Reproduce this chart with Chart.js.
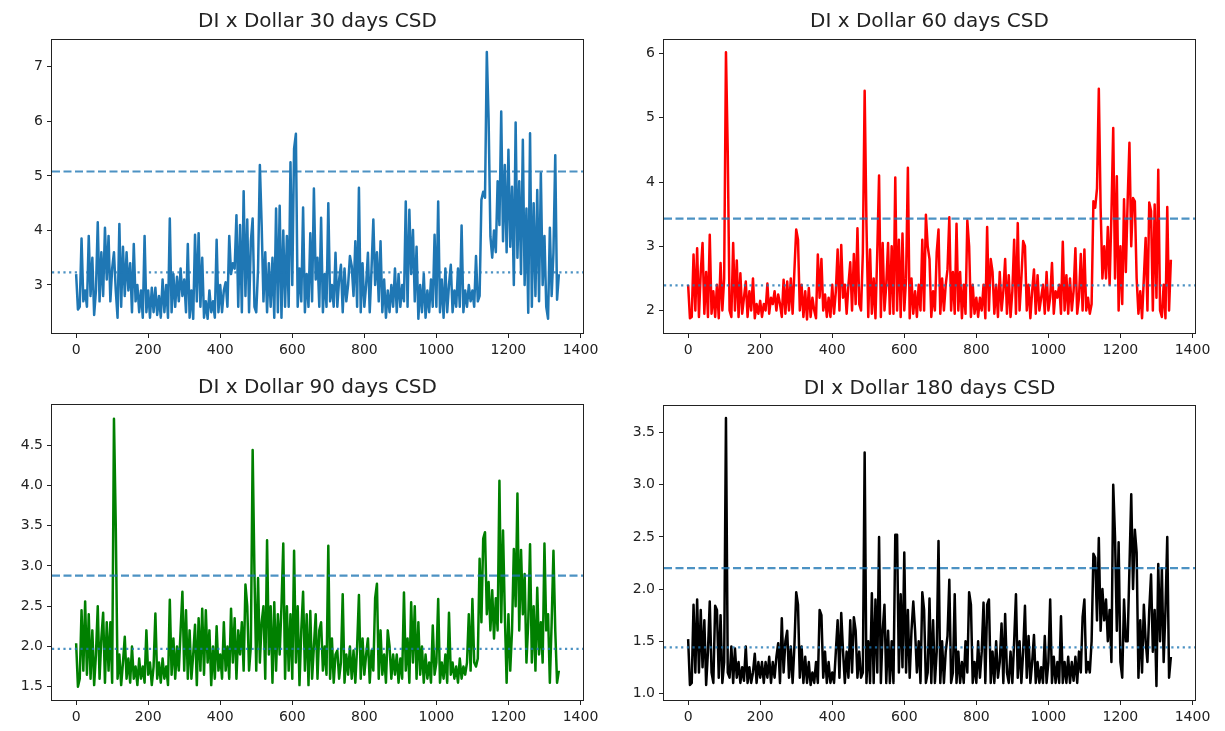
<!DOCTYPE html>
<html>
<head>
<meta charset="utf-8">
<title>DI x Dollar CSD</title>
<script src="https://cdn.jsdelivr.net/npm/chart.js@4.4.1/dist/chart.umd.min.js"></script>
<style>
  html, body { margin: 0; padding: 0; background: #fff; }
  #wrap { position: relative; width: 1225px; height: 731px; overflow: hidden; }
  .panel { position: absolute; }
</style>
</head>
<body>
<div id="wrap">
  <div class="panel" style="left:0;top:0"><canvas id="c30" width="612" height="366"></canvas></div>
  <div class="panel" style="left:612px;top:0"><canvas id="c60" width="613" height="366"></canvas></div>
  <div class="panel" style="left:0;top:366px"><canvas id="c90" width="612" height="365"></canvas></div>
  <div class="panel" style="left:612px;top:366px"><canvas id="c180" width="613" height="365"></canvas></div>
</div>
<script>
// sample days (x axis)
const days = [
  0,5,10,15,20,25,30,35,40,45,50,55,60,65,70,75,80,85,90,95,
  100,105,110,115,120,125,130,135,140,145,150,155,160,165,170,175,180,185,190,195,
  200,205,210,215,220,225,230,235,240,245,250,255,260,265,270,275,280,285,290,295,
  300,305,310,315,320,325,330,335,340,345,350,355,360,365,370,375,380,385,390,395,
  400,405,410,415,420,425,430,435,440,445,450,455,460,465,470,475,480,485,490,495,
  500,505,510,515,520,525,530,535,540,545,550,555,560,565,570,575,580,585,590,595,
  600,605,610,615,620,625,630,635,640,645,650,655,660,665,670,675,680,685,690,695,
  700,705,710,715,720,725,730,735,740,745,750,755,760,765,770,775,780,785,790,795,
  800,805,810,815,820,825,830,835,840,845,850,855,860,865,870,875,880,885,890,895,
  900,905,910,915,920,925,930,935,940,945,950,955,960,965,970,975,980,985,990,995,
  1000,1005,1010,1015,1020,1025,1030,1035,1040,1045,1050,1055,1060,1065,1070,1075,1080,1085,1090,1095,
  1100,1105,1110,1115,1120,1125,1130,1135,1140,1145,1150,1155,1160,1165,1170,1175,1180,1185,1190,1195,
  1200,1205,1210,1215,1220,1225,1230,1235,1240,1245,1250,1255,1260,1265,1270,1275,1280,1285,1290,1295,
  1300,1305,1310,1315,1320,1325,1330,1335,1340
];

const csd30 = [
  3.2,2.55,2.6,3.85,2.7,2.9,2.6,3.9,2.8,3.5,2.45,2.9,4.15,2.7,3.6,2.8,4.05,3.1,3.9,2.7,
  3.3,3.6,2.9,2.4,4.12,2.6,3.7,2.8,3.6,2.9,3.4,2.5,3.75,2.7,3.0,2.5,2.9,2.4,3.9,2.5,
  2.9,2.4,2.95,2.5,2.95,2.45,2.8,2.4,3.1,2.5,3.0,2.4,4.22,2.5,3.2,2.6,3.15,2.7,3.3,2.8,
  3.1,2.5,3.75,2.4,2.9,2.38,3.92,2.7,3.95,2.6,3.5,2.4,2.7,2.38,2.9,2.5,2.7,2.4,3.83,2.5,
  3.0,2.5,2.9,3.05,2.6,3.9,3.2,3.4,3.3,4.28,2.6,4.1,2.5,4.72,2.8,4.2,2.5,3.8,4.22,2.6,
  2.5,3.3,5.2,4.1,2.7,3.6,2.5,3.4,2.6,3.5,2.4,4.4,2.5,4.45,2.4,4.0,2.6,3.9,2.6,5.25,
  3.0,5.5,5.77,2.6,3.3,2.7,4.42,2.5,3.2,2.6,3.95,2.7,4.77,3.1,3.5,2.6,4.23,2.5,3.2,2.6,
  4.5,2.7,3.0,2.6,3.59,2.6,3.1,3.37,2.5,3.3,2.7,3.0,3.53,3.35,2.8,3.8,2.6,4.78,2.5,3.4,
  2.6,3.0,3.59,2.5,3.3,4.2,3.0,3.6,2.7,3.8,2.5,3.1,2.4,2.9,2.5,3.0,2.6,3.3,2.5,3.2,
  2.6,3.0,2.7,4.53,2.6,4.38,3.2,4.01,2.7,3.7,2.38,3.0,2.5,3.2,2.4,2.9,2.5,3.1,2.6,3.92,
  2.6,4.53,2.5,3.1,2.4,3.3,2.5,3.0,3.37,2.5,2.9,2.6,3.3,2.6,4.09,2.5,2.9,2.6,3.0,2.7,
  2.9,2.6,3.53,2.7,2.8,4.56,4.71,4.6,7.27,6.03,3.89,3.5,4.0,3.6,4.9,4.1,6.18,3.8,5.2,3.6,
  5.48,3.7,4.8,3.0,5.98,3.5,4.9,3.2,5.66,3.0,4.4,2.49,5.78,2.6,4.5,2.8,4.74,2.7,5.05,3.0,
  3.9,2.6,2.38,4.05,2.8,3.6,5.38,2.73,3.2
];

const csd60 = [
  2.4,1.88,1.9,2.87,2.0,2.97,1.9,2.6,3.05,1.95,2.6,1.9,3.18,1.95,2.3,1.9,2.4,1.88,2.74,2.0,
  2.5,6.02,4.45,2.0,1.9,3.05,2.0,2.78,1.9,2.58,1.95,2.2,2.45,1.9,2.3,2.0,2.5,1.88,2.1,1.95,
  2.15,1.9,2.1,2.0,2.42,1.95,2.2,2.1,2.3,2.0,2.25,2.1,1.9,2.48,1.95,2.45,2.0,2.5,1.95,2.62,
  3.26,3.1,2.0,2.4,1.9,2.3,1.86,2.35,1.9,2.2,2.0,1.88,2.87,2.2,2.8,2.0,2.25,1.9,2.2,1.9,
  2.4,1.95,2.3,2.95,2.0,3.02,2.2,2.4,1.95,2.4,2.75,2.0,2.88,2.1,3.28,2.1,2.0,2.9,5.42,3.35,
  1.9,2.95,1.95,2.5,1.88,2.9,4.1,1.9,3.05,2.0,2.4,3.05,1.95,3.0,1.95,4.07,2.0,3.1,1.9,3.2,
  2.0,2.5,4.22,1.88,2.5,1.95,2.3,1.9,2.4,2.0,3.1,2.0,3.49,3.0,2.8,1.9,2.3,2.0,2.9,3.26,
  1.95,2.5,2.0,2.4,2.64,3.45,2.0,2.6,1.95,3.35,2.0,2.6,1.88,2.4,1.95,3.4,3.0,1.9,2.4,1.95,
  2.2,1.9,2.2,2.0,2.4,1.88,3.3,2.0,2.8,2.6,1.95,2.4,1.9,2.6,2.0,2.3,2.8,1.95,2.55,1.9,
  2.3,3.1,1.95,3.36,2.0,2.5,3.08,3.0,2.0,2.4,1.88,2.3,2.64,1.95,2.55,2.0,2.2,2.4,1.95,2.6,
  2.0,2.2,2.74,1.95,2.3,2.2,2.4,1.95,3.07,2.0,2.55,1.95,2.5,2.0,2.3,2.97,1.95,2.2,2.88,2.0,
  2.95,2.0,2.2,1.95,2.1,3.7,3.6,3.9,5.45,3.6,2.5,3.0,2.5,3.3,2.4,3.49,4.84,2.5,4.09,2.0,
  3.0,2.1,3.73,2.6,3.7,4.61,3.0,3.75,3.7,2.5,1.95,2.3,1.88,2.5,3.13,2.0,3.68,3.55,2.0,3.65,
  2.2,4.19,2.0,1.9,2.4,1.88,3.61,2.0,2.79
];

const csd90 = [
  2.04,1.5,1.6,2.45,1.7,2.56,1.65,2.4,1.6,2.2,1.52,1.9,2.5,1.6,2.1,2.42,1.55,2.3,1.7,2.3,
  1.55,4.83,3.5,1.6,1.9,1.52,1.8,2.12,1.6,1.85,1.55,2.0,1.6,1.75,1.52,1.85,1.6,1.75,1.55,2.2,
  1.65,1.8,1.52,1.75,2.41,1.6,1.8,1.55,1.85,1.6,1.75,1.52,2.58,1.65,2.1,1.6,2.0,1.7,2.2,2.68,
  1.7,2.45,1.6,2.2,1.6,1.9,2.27,1.52,2.35,1.7,2.47,1.65,2.45,1.8,2.2,1.52,2.0,1.6,2.25,1.7,
  1.9,1.6,2.3,1.7,2.0,1.6,2.47,1.8,2.35,1.6,2.2,1.9,2.3,1.7,2.77,2.5,1.7,2.0,4.44,2.9,
  1.7,2.85,1.8,2.3,2.5,1.6,3.32,1.9,2.5,1.55,2.55,1.7,2.4,1.9,2.5,3.28,1.6,2.5,1.7,2.4,
  1.6,3.19,1.8,2.5,1.52,2.2,2.68,1.7,2.4,1.52,2.44,1.6,2.0,2.4,1.6,2.2,2.3,1.7,2.0,1.65,
  3.25,1.6,2.1,1.55,1.9,1.95,1.6,1.8,2.65,1.55,1.9,1.65,2.0,1.6,1.95,1.55,2.0,2.64,1.6,2.1,
  1.65,1.9,2.1,1.55,1.95,1.7,2.6,2.78,1.6,2.2,1.65,1.9,1.55,2.2,2.0,1.6,1.9,1.65,1.9,1.55,
  1.85,1.6,2.67,1.7,2.1,1.55,2.55,1.8,2.5,1.6,2.3,1.65,2.0,1.55,1.9,1.6,1.8,1.55,2.26,1.65,
  1.8,2.59,1.55,1.8,1.6,1.9,1.55,2.42,1.65,1.8,1.6,1.75,1.55,1.85,1.6,1.75,1.65,1.8,2.4,1.7,
  2.59,1.8,1.75,1.85,3.09,2.3,3.34,3.42,2.4,2.8,2.2,2.7,2.1,2.6,2.2,4.06,2.3,3.44,2.4,1.55,
  2.4,1.7,2.2,3.21,2.5,3.9,2.2,3.2,2.4,2.9,1.8,2.3,3.27,1.8,2.5,1.7,2.73,1.9,2.3,1.8,
  3.28,2.2,2.4,1.55,2.3,3.19,2.2,1.55,1.7
];

const csd180 = [
  1.52,1.08,1.1,1.85,1.2,1.9,1.2,1.8,1.25,1.7,1.08,1.4,1.88,1.2,1.1,1.84,1.8,1.15,1.75,1.1,
  1.3,3.64,1.2,1.15,1.45,1.1,1.43,1.15,1.3,1.1,1.25,1.12,1.45,1.1,1.25,1.1,1.2,1.38,1.1,1.3,
  1.15,1.3,1.1,1.3,1.15,1.35,1.1,1.3,1.15,1.35,1.48,1.1,1.72,1.2,1.5,1.6,1.15,1.45,1.1,1.45,
  1.97,1.85,1.15,1.45,1.1,1.35,1.1,1.3,1.08,1.2,1.1,1.3,1.1,1.8,1.75,1.15,1.4,1.1,1.3,1.1,
  1.2,1.1,1.4,1.7,1.15,1.77,1.4,1.1,1.4,1.15,1.7,1.2,1.73,1.6,1.15,1.4,1.15,1.2,3.31,1.1,
  1.5,1.1,1.96,1.1,1.9,1.2,2.5,1.1,1.6,1.85,1.1,1.6,1.1,1.5,1.1,2.52,2.52,1.2,1.95,1.25,
  2.35,1.2,1.8,1.15,1.6,1.88,1.6,1.2,1.5,1.1,1.97,1.8,1.1,1.2,1.91,1.1,1.7,1.1,1.4,2.46,
  1.1,1.5,1.1,1.4,1.55,2.09,1.1,1.2,1.95,1.1,1.4,1.1,1.3,1.1,1.5,1.2,1.97,1.85,1.1,1.3,
  1.1,1.5,1.15,1.4,1.87,1.1,1.85,1.9,1.1,1.4,1.1,1.5,1.15,1.3,1.67,1.1,1.76,1.2,1.1,1.4,
  1.1,1.5,1.95,1.15,1.5,1.1,1.4,1.84,1.15,1.55,1.1,1.3,1.56,1.1,1.3,1.1,1.25,1.1,1.55,1.1,
  1.3,1.9,1.1,1.35,1.1,1.3,1.1,1.74,1.1,1.3,1.1,1.35,1.1,1.3,1.12,1.35,1.1,1.4,1.2,1.73,
  1.9,1.2,1.3,1.2,1.5,2.34,2.3,1.7,2.49,1.6,2.0,1.7,1.9,1.5,1.8,1.3,3.0,2.5,1.6,2.45,
  1.3,1.15,1.9,1.5,1.5,2.2,2.91,2.0,2.57,2.35,1.15,1.7,1.2,1.85,1.5,1.3,1.8,2.14,1.4,1.8,
  1.07,2.24,1.5,2.2,1.3,1.8,2.5,1.15,1.35
];

// reference levels (dashed upper, dotted lower)
const upperLevel = [5.08, 3.43, 2.88, 2.20];
const lowerLevel = [3.23, 2.39, 1.97, 1.44];

const titles = ['DI x Dollar 30 days CSD', 'DI x Dollar 60 days CSD', 'DI x Dollar 90 days CSD', 'DI x Dollar 180 days CSD'];
const xTicks = [0, 200, 400, 600, 800, 1000, 1200, 1400];
const yTicks30 = [3, 4, 5, 6, 7];
const yTicks60 = [2, 3, 4, 5, 6];
const yTicks90 = [1.5, 2.0, 2.5, 3.0, 3.5, 4.0, 4.5];
const yTicks180 = [1.0, 1.5, 2.0, 2.5, 3.0, 3.5];

Chart.defaults.font.family = "'DejaVu Sans', sans-serif";

const TEXT = '#222';

// box around the axes + dashed / dotted levels
const framePlugin = {
  id: 'frame',
  afterDatasetsDraw(chart, args, opts) {
    const { ctx, chartArea: a, scales: { y } } = chart;
    ctx.save();
    ctx.strokeStyle = 'rgba(31,119,180,0.8)';
    ctx.lineWidth = 2.2;
    const lines = [[opts.upper, [8, 3.5]], [opts.lower, [2.2, 3.5]]];
    lines.forEach(([v, dash]) => {
      const py = y.getPixelForValue(v);
      ctx.setLineDash(dash);
      ctx.beginPath();
      ctx.moveTo(a.left, py);
      ctx.lineTo(a.right, py);
      ctx.stroke();
    });
    ctx.restore();
  },
  afterDraw(chart) {
    const { ctx, chartArea: a } = chart;
    ctx.save();
    ctx.strokeStyle = '#222';
    ctx.lineWidth = 1;
    ctx.strokeRect(Math.round(a.left) - 0.5, Math.round(a.top) - 0.5,
      Math.round(a.right - a.left) + 1, Math.round(a.bottom - a.top) + 1);
    ctx.restore();
  }
};

function makeChart(id, idx, values, color, yMin, yMax, yTicks, decimals, geo) {
  new Chart(document.getElementById(id), {
    type: 'line',
    data: {
      datasets: [{
        data: days.map((d, i) => ({ x: d, y: values[i] })),
        borderColor: color,
        borderWidth: 2.5,
        borderJoinStyle: 'round',
        pointRadius: 0,
        tension: 0,
        fill: false
      }]
    },
    options: {
      responsive: false,
      animation: false,
      events: [],
      layout: { padding: { right: geo.padRight, left: 0, top: 0, bottom: 0 } },
      plugins: {
        legend: { display: false },
        tooltip: { enabled: false },
        title: {
          display: true,
          text: titles[idx],
          fullSize: false,
          color: TEXT,
          font: { size: 20, weight: 'normal' },
          padding: { top: geo.titleTop, bottom: geo.titleBottom }
        },
        frame: { upper: upperLevel[idx], lower: lowerLevel[idx] }
      },
      scales: {
        x: {
          type: 'linear',
          min: -67,
          max: 1407,
          afterBuildTicks: s => { s.ticks = xTicks.map(v => ({ value: v })); },
          afterFit: s => { s.height = geo.xH; },
          ticks: {
            color: TEXT, font: { size: 14 }, padding: 4, maxRotation: 0, autoSkip: false,
            callback: v => String(v)
          },
          grid: { drawOnChartArea: false, tickLength: 5, color: '#222' },
          border: { display: false }
        },
        y: {
          min: yMin,
          max: yMax,
          afterBuildTicks: s => { s.ticks = yTicks.map(v => ({ value: v })); },
          afterFit: s => { s.width = 52; },
          ticks: {
            color: TEXT, font: { size: 14 }, padding: 4, autoSkip: false,
            callback: v => Number(v).toFixed(decimals)
          },
          grid: { drawOnChartArea: false, tickLength: 5, color: '#222' },
          border: { display: false }
        }
      }
    },
    plugins: [framePlugin]
  });
}

makeChart('c30', 0, csd30, '#1f77b4', 2.12, 7.49, yTicks30, 0,
  { padRight: 29, xH: 33, titleTop: 10, titleBottom: 6 });
makeChart('c60', 1, csd60, '#ff0000', 1.65, 6.21, yTicks60, 0,
  { padRight: 30, xH: 33, titleTop: 10, titleBottom: 6 });
makeChart('c90', 2, csd90, '#008000', 1.335, 5.0, yTicks90, 1,
  { padRight: 29, xH: 31, titleTop: 10, titleBottom: 5 });
makeChart('c180', 3, csd180, '#000000', 0.936, 3.756, yTicks180, 1,
  { padRight: 30, xH: 31, titleTop: 11, titleBottom: 5 });
</script>
</body>
</html>
